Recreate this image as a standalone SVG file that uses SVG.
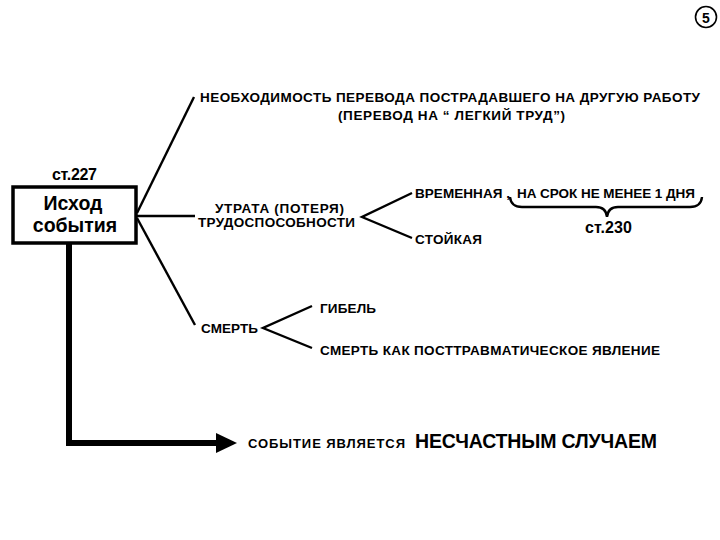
<svg xmlns="http://www.w3.org/2000/svg" width="720" height="540" viewBox="0 0 720 540">
<style>
text{font-family:"Liberation Sans",Arial,sans-serif;font-weight:bold;fill:#000}
.t{font-size:13.5px}
.ref{font-size:16px}
.ln{stroke:#000;stroke-width:2.4;fill:none}
.big{font-size:19.5px}
</style>
<rect width="720" height="540" fill="#fff"/>
<g id="page-num">
<circle cx="706" cy="17" r="10.5" fill="none" stroke="#000" stroke-width="1.6"/>
<text x="706" y="22.5" font-size="14" text-anchor="middle">5</text>
</g>
<g id="connectors">
<line class="ln" x1="137" y1="213" x2="194" y2="97"/>
<line class="ln" x1="137" y1="216" x2="195" y2="216"/>
<line class="ln" x1="137" y1="218" x2="195" y2="325"/>
<polyline class="ln" points="412,193 362,217 412,238"/>
<polyline class="ln" points="312,306 263,328 312,348"/>
<path d="M510,197 Q511,207 522,207 L596,207 Q606,207 607,217 Q608,207 618,207 L690,207 Q701,207 702,197" class="ln" stroke-width="2.2"/>
<polyline points="69,244 69,443 218,443" fill="none" stroke="#000" stroke-width="6"/>
<polygon points="216,433 237,443 216,453" fill="#000"/>
</g>
<g id="source">
<text x="52" y="180" class="ref" textLength="45">ст.227</text>
<rect x="13" y="187" width="123" height="56" fill="#fff" stroke="#000" stroke-width="3.5"/>
<text x="73" y="210" class="big" text-anchor="middle" font-size="21">Исход</text>
<text x="75" y="232" class="big" text-anchor="middle">события</text>
</g>
<g id="transfer">
<text x="200" y="102" class="t" textLength="500">НЕОБХОДИМОСТЬ ПЕРЕВОДА ПОСТРАДАВШЕГО НА ДРУГУЮ РАБОТУ</text>
<text x="338" y="120" class="t" textLength="227">(ПЕРЕВОД НА “ ЛЕГКИЙ ТРУД”)</text>
</g>
<g id="loss">
<text x="215" y="213" class="t" textLength="129">УТРАТА  (ПОТЕРЯ)</text>
<text x="198" y="227" class="t" textLength="157">ТРУДОСПОСОБНОСТИ</text>
</g>
<g id="temporary">
<text x="415" y="198" class="t" textLength="95">ВРЕМЕННАЯ ,</text>
<text x="517" y="198" class="t" textLength="178">НА СРОК НЕ МЕНЕЕ 1 ДНЯ</text>
<text x="585" y="233" class="ref" textLength="47">ст.230</text>
</g>
<g id="permanent">
<text x="415" y="244" class="t" textLength="67">СТОЙКАЯ</text>
</g>
<g id="death">
<text x="201" y="333" class="t" textLength="57">СМЕРТЬ</text>
</g>
<g id="perish">
<text x="320" y="313" class="t" textLength="56">ГИБЕЛЬ</text>
</g>
<g id="post-trauma">
<text x="320" y="355" class="t" textLength="340">СМЕРТЬ КАК ПОСТТРАВМАТИЧЕСКОЕ ЯВЛЕНИЕ</text>
</g>
<g id="result">
<text x="248" y="448" font-size="13" textLength="157">СОБЫТИЕ  ЯВЛЯЕТСЯ</text>
<text x="415" y="448" font-size="19.5" textLength="242">НЕСЧАСТНЫМ СЛУЧАЕМ</text>
</g>
</svg>
